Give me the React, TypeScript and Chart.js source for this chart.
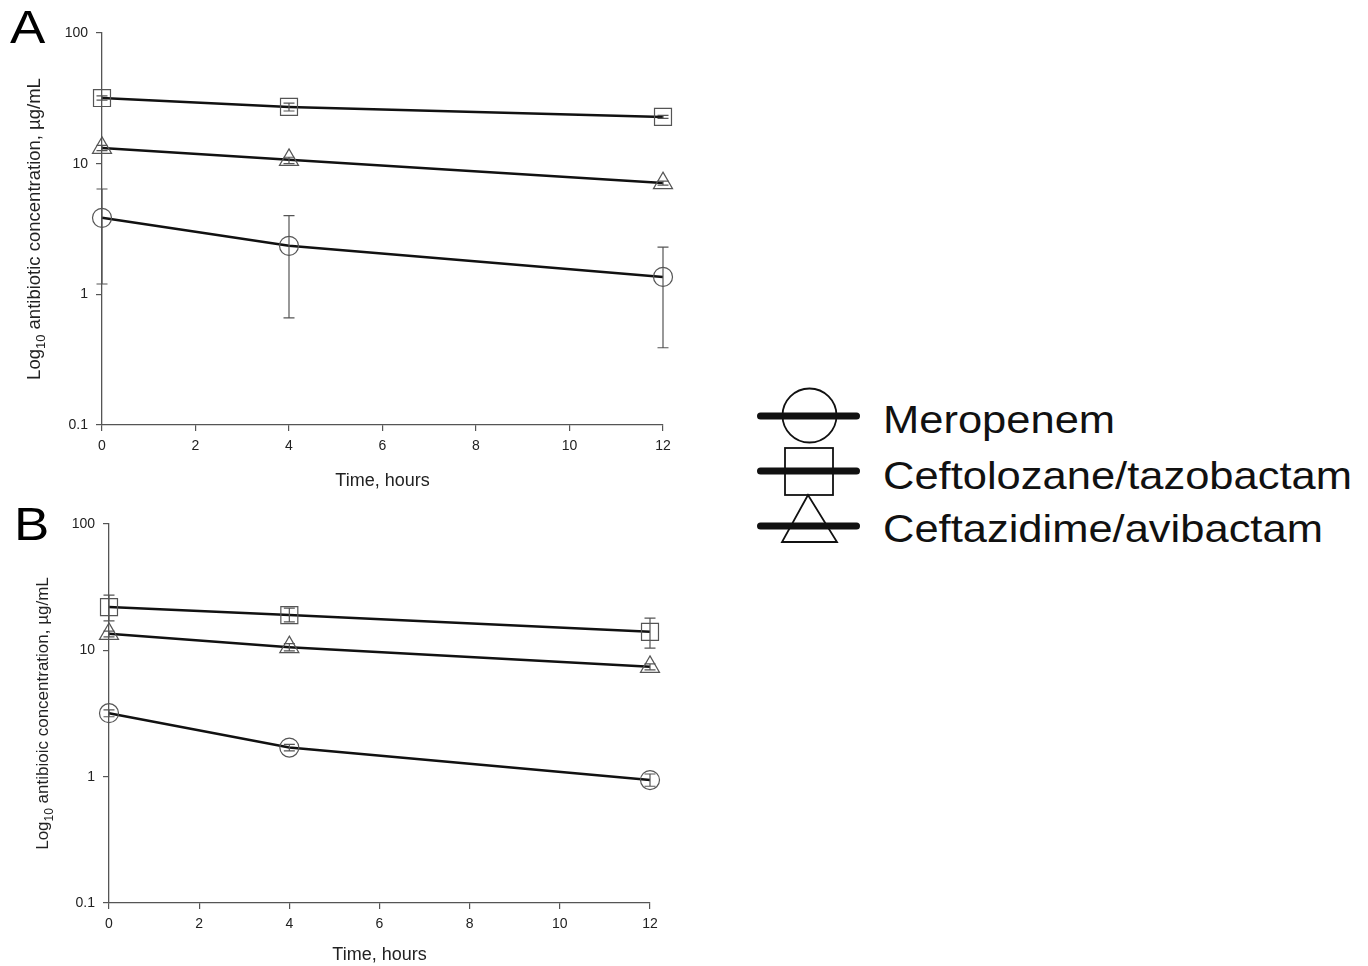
import React, { useEffect, useRef } from "react";
import { Chart, registerables } from "chart.js";

Chart.register(...registerables);

// ---------- data ----------
const hours = [0, 4, 12];
const xTicks = [0, 2, 4, 6, 8, 10, 12];
const yTicks = [0.1, 1, 10, 100];
const yTickLabels = ["0.1", "1", "10", "100"];
const seriesNames = ["Meropenem", "Ceftolozane/tazobactam", "Ceftazidime/avibactam"];

// Panel A
const aMero = [3.85, 2.35, 1.36];
const aMeroLow = [1.2, 0.66, 0.39];
const aMeroHigh = [6.4, 4.0, 2.3];
const aCeftolozane = [31.8, 27.2, 22.8];
const aCeftolozaneLow = [30.6, 25.3, 22.2];
const aCeftolozaneHigh = [33.0, 29.1, 23.4];
const aCeftazidime = [13.2, 10.7, 7.1];
const aCeftazidimeLow = [12.6, 10.0, 6.85];
const aCeftazidimeHigh = [13.8, 11.2, 7.35];

// Panel B
const bMero = [3.18, 1.7, 0.94];
const bMeroLow = [2.98, 1.6, 0.84];
const bMeroHigh = [3.38, 1.8, 1.05];
const bCeftolozane = [22.0, 19.0, 14.0];
const bCeftolozaneLow = [17.1, 16.8, 10.4];
const bCeftolozaneHigh = [27.4, 21.6, 18.0];
const bCeftazidime = [13.5, 10.6, 7.4];
const bCeftazidimeLow = [12.8, 9.9, 7.0];
const bCeftazidimeHigh = [14.2, 11.3, 7.8];

const xTitle = "Time, hours";
const yTitleA = [" antibiotic concentration, µg/mL"];
const yTitleB = [" antibioic concentration, µg/mL"];

const FONT = "'Liberation Sans', Arial, Helvetica, sans-serif";

type PanelSpec = {
  width: number;
  height: number;
  padTop: number;
  padRight: number;
  yAxisWidth: number;
  xAxisHeight: number;
  xTitlePadBottom: number;
  yTitleX: number;
  yTitleSize: number;
  yTitleRest: string;
  values: number[][];
  lows: number[][];
  highs: number[][];
};

const pointStyles = ["circle", "rect", "triangle"];
const pointRadii = [9.5, 12, 11];

function buildConfig(p: PanelSpec): any {
  const errorBars = {
    id: "errorBars",
    afterDatasetsDraw(chart: any) {
      const ctx = chart.ctx;
      const xs = chart.scales.x;
      const ys = chart.scales.y;
      ctx.save();
      ctx.strokeStyle = "#555";
      ctx.lineWidth = 1.2;
      p.values.forEach((_, i) => {
        hours.forEach((h, j) => {
          const x = xs.getPixelForValue(h);
          const yl = ys.getPixelForValue(p.lows[i][j]);
          const yh = ys.getPixelForValue(p.highs[i][j]);
          ctx.beginPath();
          ctx.moveTo(x, yl);
          ctx.lineTo(x, yh);
          ctx.moveTo(x - 5.5, yl);
          ctx.lineTo(x + 5.5, yl);
          ctx.moveTo(x - 5.5, yh);
          ctx.lineTo(x + 5.5, yh);
          ctx.stroke();
        });
      });
      ctx.restore();
    },
  };

  const yTitle = {
    id: "yTitle",
    afterDraw(chart: any) {
      const ctx = chart.ctx;
      const area = chart.chartArea;
      const cy = (area.top + area.bottom) / 2;
      const big = `${p.yTitleSize}px ${FONT}`;
      const small = `${Math.round(p.yTitleSize * 0.68)}px ${FONT}`;
      ctx.save();
      ctx.font = big;
      const w1 = ctx.measureText("Log").width;
      const w3 = ctx.measureText(p.yTitleRest).width;
      ctx.font = small;
      const w2 = ctx.measureText("10").width;
      const total = w1 + w2 + w3;
      ctx.translate(p.yTitleX, cy);
      ctx.rotate(-Math.PI / 2);
      ctx.fillStyle = "#222";
      ctx.textBaseline = "alphabetic";
      ctx.textAlign = "left";
      const base = p.yTitleSize * 0.36;
      let x = -total / 2;
      ctx.font = big;
      ctx.fillText("Log", x, base);
      x += w1;
      ctx.font = small;
      ctx.fillText("10", x, base + p.yTitleSize * 0.28);
      x += w2;
      ctx.font = big;
      ctx.fillText(p.yTitleRest, x, base);
      ctx.restore();
    },
  };

  return {
    type: "line",
    data: {
      datasets: p.values.map((vals, i) => ({
        label: seriesNames[i],
        data: hours.map((h, j) => ({ x: h, y: vals[j] })),
        borderColor: "#111",
        borderWidth: 2.5,
        tension: 0,
        pointStyle: pointStyles[i],
        pointRadius: pointRadii[i],
        pointBorderColor: "#555",
        pointBorderWidth: 1.2,
        pointBackgroundColor: "rgba(0,0,0,0)",
        clip: false,
      })),
    },
    options: {
      animation: false,
      responsive: false,
      maintainAspectRatio: false,
      events: [],
      layout: { padding: { top: p.padTop, right: p.padRight, left: 0, bottom: 0 } },
      plugins: { legend: { display: false }, tooltip: { enabled: false } },
      scales: {
        x: {
          type: "linear",
          min: 0,
          max: 12,
          afterBuildTicks: (s: any) => {
            s.ticks = xTicks.map((v) => ({ value: v }));
          },
          afterFit: (s: any) => {
            s.height = p.xAxisHeight;
          },
          ticks: {
            font: { family: FONT, size: 14 },
            color: "#222",
            padding: 7,
            maxRotation: 0,
            autoSkip: false,
          },
          grid: {
            drawOnChartArea: false,
            drawTicks: true,
            tickLength: 6,
            color: "#555",
            lineWidth: 1.2,
          },
          border: { display: true, color: "#555", width: 1.3 },
          title: {
            display: true,
            text: xTitle,
            font: { family: FONT, size: 18 },
            color: "#222",
            padding: { top: 0, bottom: p.xTitlePadBottom },
          },
        },
        y: {
          type: "logarithmic",
          min: 0.1,
          max: 100,
          afterBuildTicks: (s: any) => {
            s.ticks = yTicks.map((v) => ({ value: v }));
          },
          afterFit: (s: any) => {
            s.width = p.yAxisWidth;
          },
          ticks: {
            font: { family: FONT, size: 14 },
            color: "#222",
            padding: 8,
            autoSkip: false,
            callback: (v: any) => {
              const k = yTicks.findIndex((t) => Math.abs(t - v) < 1e-9);
              return k >= 0 ? yTickLabels[k] : "";
            },
          },
          grid: {
            drawOnChartArea: false,
            drawTicks: true,
            tickLength: 6,
            color: "#555",
            lineWidth: 1.2,
          },
          border: { display: true, color: "#555", width: 1.3 },
          title: { display: false },
        },
      },
    },
    plugins: [errorBars, yTitle],
  };
}

const panelA: PanelSpec = {
  width: 700,
  height: 500,
  padTop: 33,
  padRight: 37,
  yAxisWidth: 102,
  xAxisHeight: 75,
  xTitlePadBottom: 8,
  yTitleX: 33,
  yTitleSize: 18.5,
  yTitleRest: yTitleA[0],
  values: [aMero, aCeftolozane, aCeftazidime],
  lows: [aMeroLow, aCeftolozaneLow, aCeftazidimeLow],
  highs: [aMeroHigh, aCeftolozaneHigh, aCeftazidimeHigh],
};

const panelB: PanelSpec = {
  width: 700,
  height: 466,
  padTop: 24,
  padRight: 50,
  yAxisWidth: 109,
  xAxisHeight: 63,
  xTitlePadBottom: 0,
  yTitleX: 42,
  yTitleSize: 17,
  yTitleRest: yTitleB[0],
  values: [bMero, bCeftolozane, bCeftazidime],
  lows: [bMeroLow, bCeftolozaneLow, bCeftazidimeLow],
  highs: [bMeroHigh, bCeftolozaneHigh, bCeftazidimeHigh],
};

function Panel({ spec, left, top }: { spec: PanelSpec; left: number; top: number }) {
  const ref = useRef<HTMLCanvasElement | null>(null);
  useEffect(() => {
    if (!ref.current) return;
    const chart = new Chart(ref.current, buildConfig(spec));
    return () => chart.destroy();
  }, [spec]);
  return (
    <canvas
      ref={ref}
      width={spec.width}
      height={spec.height}
      style={{ position: "absolute", left, top, width: spec.width, height: spec.height }}
    />
  );
}

function Legend() {
  const textStyle = (top: number): React.CSSProperties => ({
    position: "absolute",
    left: 883,
    top,
    fontFamily: FONT,
    fontSize: 39,
    lineHeight: 1,
    color: "#111",
    whiteSpace: "nowrap",
    transform: "scaleX(1.115)",
    transformOrigin: "left top",
  });
  return (
    <>
      <svg
        width={120}
        height={170}
        style={{ position: "absolute", left: 750, top: 380 }}
        viewBox="0 0 120 170"
      >
        <ellipse cx={59.5} cy={35.5} rx={27} ry={27} fill="none" stroke="#111" strokeWidth={1.8} />
        <rect x={35} y={68} width={48} height={47} fill="none" stroke="#111" strokeWidth={1.8} />
        <polygon points="58,115 32,162 87,162" fill="none" stroke="#111" strokeWidth={1.8} />
        <line x1={10.5} y1={36} x2={106.5} y2={36} stroke="#111" strokeWidth={7} strokeLinecap="round" />
        <line x1={10.5} y1={91} x2={106.5} y2={91} stroke="#111" strokeWidth={7} strokeLinecap="round" />
        <line x1={10.5} y1={146} x2={106.5} y2={146} stroke="#111" strokeWidth={7} strokeLinecap="round" />
      </svg>
      <div style={textStyle(400)}>{seriesNames[0]}</div>
      <div style={textStyle(456)}>{seriesNames[1]}</div>
      <div style={textStyle(509)}>{seriesNames[2]}</div>
    </>
  );
}

export default function App() {
  const letter = (text: string, left: number, top: number, size: number): React.ReactNode => (
    <div
      style={{
        position: "absolute",
        left,
        top,
        fontFamily: FONT,
        fontSize: size,
        lineHeight: 1,
        color: "#000",
        transform: "scaleX(1.15)",
        transformOrigin: "left top",
      }}
    >
      {text}
    </div>
  );
  return (
    <div
      style={{
        position: "absolute",
        left: 0,
        top: 0,
        width: 1368,
        height: 966,
        background: "#fff",
        overflow: "hidden",
      }}
    >
      <Panel spec={panelA} left={0} top={0} />
      <Panel spec={panelB} left={0} top={500} />
      {letter("A", 10, 4, 46)}
      {letter("B", 14, 501, 46)}
      <Legend />
    </div>
  );
}
